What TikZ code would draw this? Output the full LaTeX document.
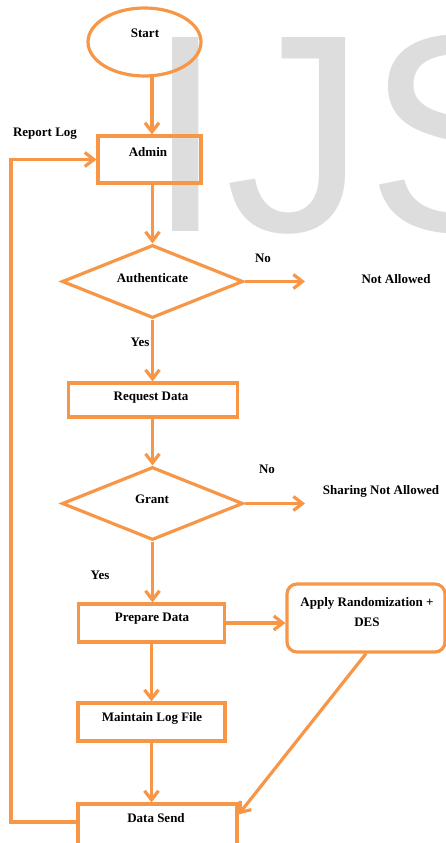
\documentclass[tikz,border=0pt]{standalone}
\usepackage{fontspec}
\setmainfont{Liberation Serif}
\newfontfamily\wmfont{Liberation Sans}
\usetikzlibrary{shapes.geometric,arrows.meta,calc}
\definecolor{org}{RGB}{247,150,70}
\definecolor{wm}{RGB}{221,221,221}
\begin{document}
\begin{tikzpicture}[x=1pt,y=-1pt,
 shp/.style={draw=org,line width=3.2pt,inner sep=0pt},
 txt/.style={font=\bfseries\fontsize{13}{20}\selectfont,inner sep=0pt,text=black},
 arr/.style={draw=org,line width=3.2pt,-{Straight Barb[length=9pt,width=14pt]}}]
\useasboundingbox (0,0) rectangle (446,843);
\node[anchor=base west,inner sep=0pt,text=wm,font=\wmfont\fontsize{282}{282}\selectfont] (wmk) at (146.5,231) {IJS};
% shapes
\node[shp,ellipse,minimum width=113pt,minimum height=68pt] (start) at (144.5,42) {};
\node[shp,rectangle,minimum width=103pt,minimum height=47pt] (admin) at (149.5,159.5) {};
\node[shp,diamond,minimum width=181pt,minimum height=73pt] (auth) at (152.5,281.5) {};
\node[shp,rectangle,minimum width=169pt,minimum height=34pt] (req) at (153,400) {};
\node[shp,diamond,minimum width=181pt,minimum height=73pt] (grant) at (152.5,503.5) {};
\node[shp,rectangle,minimum width=146pt,minimum height=38pt] (prep) at (151.5,623) {};
\node[shp,rectangle,rounded corners=10pt,minimum width=158pt,minimum height=68pt] (apply) at (366,618) {};
\node[shp,rectangle,minimum width=147pt,minimum height=38pt] (maint) at (151.5,722) {};
\node[shp,rectangle,minimum width=159pt,minimum height=44pt] (ds) at (157.5,826) {};
% texts
\node[txt] (tstart) at (145,33) {Start};
\node[txt] (tadmin) at (148,152) {Admin};
\node[txt] (treport) at (45,134) {Report Log};
\node[txt] (tauth) at (152.5,278) {Authenticate};
\node[txt] (tno1) at (263,258) {No};
\node[txt] (tna) at (396,279) {Not Allowed};
\node[txt] (tyes1) at (140,342) {Yes};
\node[txt] (treq) at (151,398) {Request Data};
\node[txt] (tgrant) at (152,499) {Grant};
\node[txt] (tno2) at (267,469) {No};
\node[txt] (tsna) at (381,491) {Sharing Not Allowed};
\node[txt] (tyes2) at (100,575) {Yes};
\node[txt] (tprep) at (152,619) {Prepare Data};
\node[txt,align=center] (tapply) at (367,612) {Apply Randomization +\\DES};
\node[txt] (tmaint) at (152,718) {Maintain Log File};
\node[txt] (tds) at (156,818) {Data Send};
% connectors
\coordinate (noA) at (305,281.5);
\coordinate (noG) at (305,503.5);
\coordinate (lp) at (11,159.5);
\draw[arr] (start.-78) -- (start.-78 |- admin.north);
\draw[arr] (admin.south -| auth.north) -- (auth.north);
\draw[arr] (auth.east) -- (noA);
\draw[arr] (auth.south) -- (auth.south |- req.north);
\draw[arr] (req.south -| grant.north) -- (grant.north);
\draw[arr] (grant.east) -- (noG);
\draw[arr] (grant.south) -- (grant.south |- prep.north);
\draw[arr] (prep.east) -- (prep.east -| apply.west);
\draw[arr] (prep.south) -- (maint.north);
\draw[arr] (maint.south) -- (maint.south |- ds.north);
\draw[arr] (apply.south) -- ([yshift=-12pt]ds.north east);
\draw[arr] ([yshift=4pt]ds.west) -| (lp) -- (admin.west);
\end{tikzpicture}
\end{document}
